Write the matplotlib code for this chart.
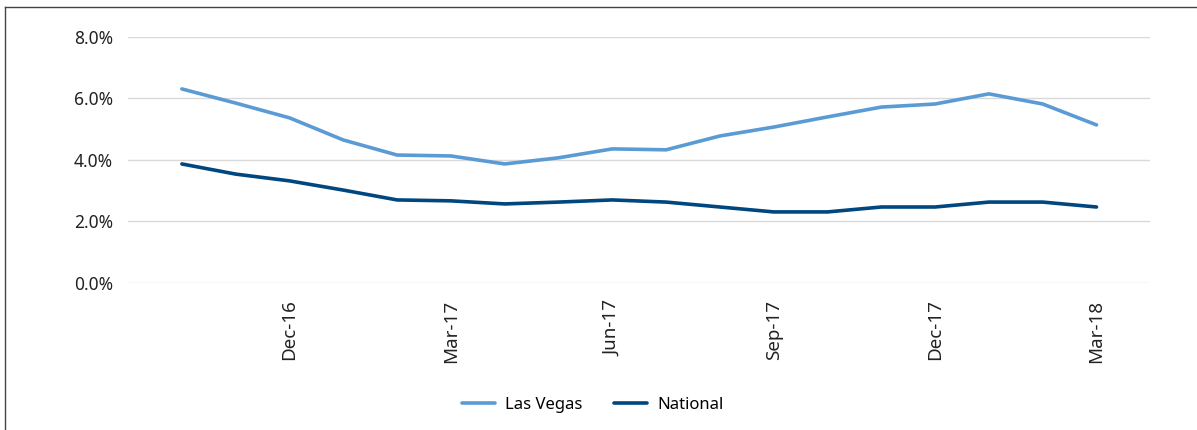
import matplotlib
matplotlib.use("Agg")
import matplotlib.pyplot as plt
import numpy as np
from matplotlib.lines import Line2D

plt.rcParams['font.family'] = ['Noto Sans', 'DejaVu Sans']

months = ['Oct-16', 'Nov-16', 'Dec-16', 'Jan-17', 'Feb-17', 'Mar-17', 'Apr-17',
          'May-17', 'Jun-17', 'Jul-17', 'Aug-17', 'Sep-17', 'Oct-17', 'Nov-17',
          'Dec-17', 'Jan-18', 'Feb-18', 'Mar-18']
las_vegas = [6.31, 5.85, 5.37, 4.65, 4.16, 4.13, 3.87, 4.07, 4.36, 4.33,
             4.78, 5.07, 5.40, 5.72, 5.82, 6.15, 5.82, 5.14]
national = [3.87, 3.54, 3.32, 3.02, 2.70, 2.67, 2.57, 2.63, 2.70, 2.63,
            2.47, 2.31, 2.31, 2.47, 2.47, 2.63, 2.63, 2.47]
tick_labels = ['Dec-16', 'Mar-17', 'Jun-17', 'Sep-17', 'Dec-17', 'Mar-18']

x = np.arange(len(months))

fig = plt.figure(figsize=(11.97, 4.30), dpi=100)
ax = fig.add_axes([0.107, 0.342, 0.854, 0.572])

ax.plot(x, las_vegas, color='#5B9BD5', lw=2.6, label='Las Vegas', solid_capstyle='round')
ax.plot(x, national, color='#00467F', lw=2.6, label='National', solid_capstyle='round')

ax.set_xlim(-1, len(months))
ax.set_ylim(0, 8)
ax.set_yticks([0, 2, 4, 6, 8])
ax.set_yticklabels(['%.1f%%' % v for v in [0, 2, 4, 6, 8]], fontsize=12.5, color='#222222')
ax.set_xticks([months.index(m) for m in tick_labels])
ax.set_xticklabels(tick_labels, rotation=90, fontsize=13.5, color='#222222')
ax.tick_params(axis='both', length=0)
ax.tick_params(axis='y', pad=11)
ax.tick_params(axis='x', pad=12)
ax.grid(axis='y', color='#D9D9D9', lw=1)
ax.set_axisbelow(True)
for s in ax.spines.values():
    s.set_visible(False)

fig.legend(loc='center', bbox_to_anchor=(0.495, 0.058), ncol=2, frameon=False,
           fontsize=12, handlelength=2.0, columnspacing=1.9, handletextpad=0.6)

# frame around the picture (top and left only visible)
fig.add_artist(Line2D([0.004, 0.004], [0, 0.984], color='#444444', lw=1.0, transform=fig.transFigure))
fig.add_artist(Line2D([0.004, 1.0], [0.984, 0.984], color='#444444', lw=1.0, transform=fig.transFigure))

fig.savefig('out.png', dpi=100)
